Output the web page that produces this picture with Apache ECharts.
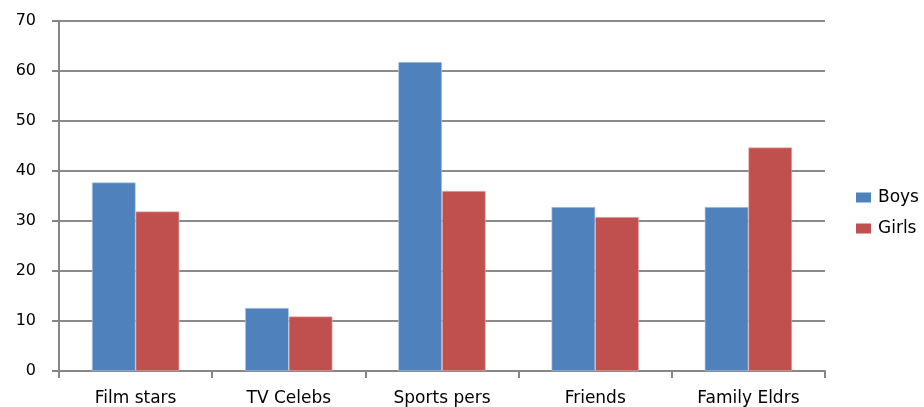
<!DOCTYPE html>
<html>
<head>
<meta charset="utf-8">
<script src="https://cdn.jsdelivr.net/npm/echarts@6/dist/echarts.min.js"></script>
<style>
  html, body { margin: 0; padding: 0; background: #fff; }
  #chart { width: 924px; height: 407px; }
</style>
</head>
<body>
<div id="chart"></div>
<script>
const categories = ["Film stars", "TV Celebs", "Sports pers", "Friends", "Family Eldrs"];
const boys = [37.7, 12.6, 61.8, 32.8, 32.8];
const girls = [31.9, 10.9, 36.0, 30.8, 44.7];
const yTicks = [0, 10, 20, 30, 40, 50, 60, 70];

const font = "DejaVu Sans";
const chart = echarts.init(document.getElementById("chart"));

chart.setOption({
  animation: false,
  textStyle: { fontFamily: font },
  grid: { left: 59, right: 99, top: 21, bottom: 35 },
  legend: {
    orient: "vertical",
    left: 851,
    top: 184,
    itemWidth: 15,
    itemHeight: 10,
    itemGap: 14,
    icon: "rect",
    itemStyle: { borderWidth: 0 },
    textStyle: { fontFamily: font, fontSize: 17, color: "#000", padding: [0, 0, 0, 2] },
    data: ["Boys", "Girls"]
  },
  xAxis: {
    type: "category",
    data: categories,
    axisLine: { lineStyle: { color: "#868686", width: 2 } },
    axisTick: { show: true, length: 7, lineStyle: { color: "#868686", width: 2 } },
    axisLabel: { color: "#000", fontSize: 17, margin: 19 }
  },
  yAxis: {
    type: "value",
    min: yTicks[0],
    max: yTicks[yTicks.length - 1],
    interval: 10,
    axisLine: { show: true, lineStyle: { color: "#868686", width: 2 } },
    axisTick: { show: true, length: 7, lineStyle: { color: "#868686", width: 2 } },
    axisLabel: { color: "#000", fontSize: 16, margin: 23 },
    splitLine: { lineStyle: { color: "#8a8a8a", width: 2 } }
  },
  series: [
    {
      name: "Boys",
      type: "bar",
      data: boys,
      barGap: "0%",
      barCategoryGap: "43%",
      itemStyle: { color: "#4F81BD", borderColor: "#B9CDE5", borderWidth: 0.6 }
    },
    {
      name: "Girls",
      type: "bar",
      data: girls,
      itemStyle: { color: "#C0504D", borderColor: "#E6B9B8", borderWidth: 0.6 }
    }
  ]
});
</script>
</body>
</html>
